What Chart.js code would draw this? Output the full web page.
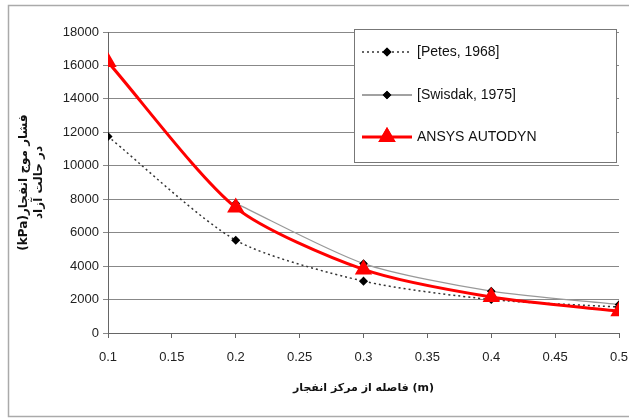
<!DOCTYPE html>
<html>
<head>
<meta charset="utf-8">
<script src="https://cdn.jsdelivr.net/npm/chart.js@4"></script>
<style>
  html, body { margin: 0; padding: 0; background: #fff; }
  #wrap { width: 629px; height: 419px; position: relative; }
</style>
</head>
<body>
<div id="wrap"><canvas id="chart" width="629" height="419"></canvas></div>
<script>
const distances = [0.1, 0.2, 0.3, 0.4, 0.5];
const petes = [11750, 5550, 3100, 2000, 1550];
const swisdak = [null, 7750, 4150, 2500, 1700];
const autodyn = [16200, 7500, 3800, 2150, 1300];

const seriesLabels = ["[Petes, 1968]", "[Swisdak, 1975]", "ANSYS AUTODYN"];
const yTitle = ["(kPa)فشار موج انفجار", "در حالت آزاد"];
const xTitle = "فاصله از مرکز انفجار (m)";

const FONT = "'Liberation Sans', Arial, 'DejaVu Sans', sans-serif";

function toPoints(values) {
  return distances.map((x, i) => ({ x: x, y: values[i] }));
}

// legend box drawn inside the plot, like the Excel original
const boxLegend = {
  id: "boxLegend",
  afterDraw(chart) {
    const ctx = chart.ctx;
    const x0 = 354, y0 = 29, w = 262, h = 133;
    ctx.save();
    ctx.fillStyle = "#fff";
    ctx.fillRect(x0, y0, w, h);
    ctx.strokeStyle = "#777";
    ctx.lineWidth = 1;
    ctx.strokeRect(x0 + 0.5, y0 + 0.5, w, h);

    const rows = [52, 95, 137];
    chart.data.datasets.forEach((ds, i) => {
      const y = rows[i];
      ctx.beginPath();
      ctx.strokeStyle = ds.legendLine || ds.borderColor;
      ctx.lineWidth = ds.borderWidth;
      ctx.setLineDash(ds.borderDash || []);
      ctx.moveTo(362, y);
      ctx.lineTo(412, y);
      ctx.stroke();
      ctx.setLineDash([]);
      Chart.helpers.drawPoint(ctx, {
        pointStyle: ds.pointStyle,
        radius: ds.pointRadius,
        rotation: 0,
        borderWidth: 1,
      }, 387, y);
      ctx.fillStyle = ds.pointBackgroundColor;
      ctx.strokeStyle = ds.pointBorderColor;
      ctx.fill();
      ctx.stroke();
      ctx.fillStyle = "#111";
      ctx.font = "14px " + FONT;
      ctx.textBaseline = "middle";
      ctx.textAlign = "left";
      ctx.fillText(ds.label, 417, y);
    });
    ctx.restore();
  },
};

// outer chart border (open on the right, as in the cropped original)
const frame = {
  id: "frame",
  afterDraw(chart) {
    const ctx = chart.ctx;
    ctx.save();
    ctx.strokeStyle = "#aaa";
    ctx.lineWidth = 1.5;
    ctx.strokeRect(8.5, 5.5, 640, 411);
    ctx.restore();
  },
};

new Chart(document.getElementById("chart"), {
  type: "line",
  data: {
    datasets: [
      {
        label: seriesLabels[0],
        data: toPoints(petes),
        borderColor: "#333",
        borderWidth: 1.5,
        borderDash: [2, 3],
        tension: 0.25,
        pointStyle: "rectRot",
        pointRadius: 3.5,
        pointBackgroundColor: "#000",
        pointBorderColor: "#000",
        order: 2,
      },
      {
        label: seriesLabels[1],
        data: toPoints(swisdak),
        borderColor: "#999",
        legendLine: "#444",
        borderWidth: 1.2,
        tension: 0.25,
        spanGaps: true,
        pointStyle: "rectRot",
        pointRadius: 3.5,
        pointBackgroundColor: "#000",
        pointBorderColor: "#000",
        order: 1,
      },
      {
        label: seriesLabels[2],
        data: toPoints(autodyn),
        borderColor: "#ff0000",
        borderWidth: 3,
        tension: 0.25,
        pointStyle: "triangle",
        pointRadius: 7,
        pointBackgroundColor: "#ff0000",
        pointBorderColor: "#ff0000",
        order: 0,
      },
    ],
  },
  options: {
    responsive: false,
    animation: false,
    layout: { padding: { top: 32, right: 8, left: 16, bottom: 22 } },
    plugins: {
      legend: { display: false },
      tooltip: { enabled: false },
    },
    scales: {
      x: {
        type: "linear",
        min: 0.1,
        max: 0.5,
        // the last label is allowed to run off the edge, as in the original
        afterFit: (s) => { s.height = 64; s.paddingRight = 0; },
        ticks: {
          stepSize: 0.05,
          color: "#222",
          font: { family: FONT, size: 13 },
          padding: 12,
          callback: (v) => String(Number(v.toFixed(2))),
        },
        grid: { drawOnChartArea: false, color: "#666", tickLength: 5 },
        border: { color: "#666" },
        title: {
          display: true,
          text: xTitle,
          color: "#111",
          font: { family: "'DejaVu Sans', sans-serif", size: 11, weight: "bold" },
          padding: { top: 4, bottom: 2 },
        },
      },
      y: {
        min: 0,
        max: 18000,
        afterFit: (s) => { s.width = 92; },
        ticks: {
          stepSize: 2000,
          color: "#222",
          font: { family: FONT, size: 13 },
          padding: 4,
          callback: (v) => String(v),
        },
        grid: { color: "#888", tickLength: 5 },
        border: { color: "#666" },
        title: {
          display: true,
          text: yTitle,
          color: "#111",
          font: { family: "'DejaVu Sans', sans-serif", size: 12, weight: "bold", lineHeight: 1.25 },
          padding: { top: 0, bottom: 2 },
        },
      },
    },
  },
  plugins: [boxLegend, frame],
});
</script>
</body>
</html>
